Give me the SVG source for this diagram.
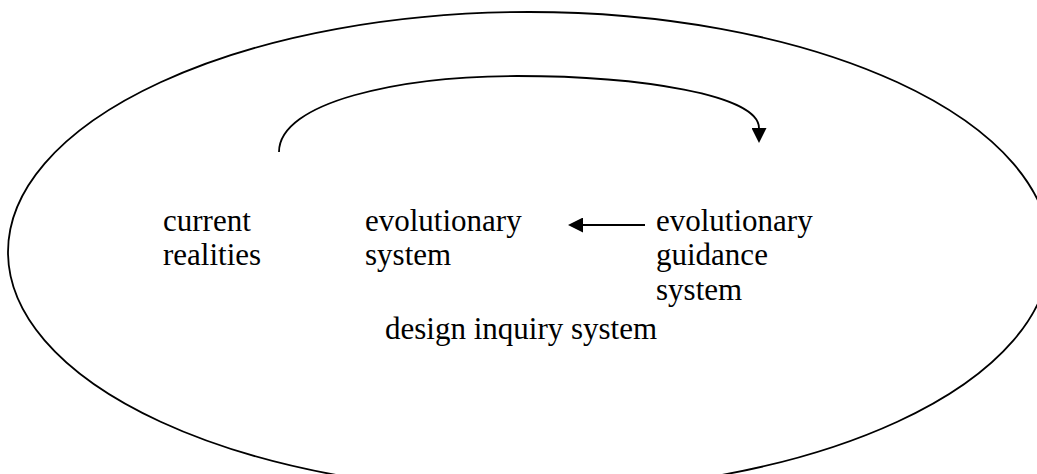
<svg xmlns="http://www.w3.org/2000/svg" width="1037" height="474" viewBox="0 0 1037 474">
  <style>
    .label { font-family: "Liberation Serif", "Times New Roman", serif; font-size: 31px; fill: #000; }
    .line { fill: none; stroke: #000; stroke-width: 1.8; }
  </style>
  <defs>
    <marker id="arrow" markerUnits="userSpaceOnUse" markerWidth="15" markerHeight="15" viewBox="0 0 15 15" refX="0" refY="7.5" orient="auto">
      <path d="M0,0 L15,7.5 L0,15 z" fill="#000"/>
    </marker>
  </defs>
  <rect width="1037" height="474" fill="#fff"/>

  <!-- outer boundary: design inquiry system -->
  <g id="design-inquiry-system">
    <ellipse cx="529" cy="252" rx="521" ry="240" class="line" stroke-width="1.6"/>
    <text class="label" x="385" y="339">design inquiry system</text>
  </g>

  <g id="current-realities">
    <text class="label" x="163" y="231">current</text>
    <text class="label" x="163" y="265">realities</text>
  </g>

  <g id="evolutionary-system">
    <text class="label" x="365" y="231">evolutionary</text>
    <text class="label" x="365" y="265">system</text>
  </g>

  <g id="evolutionary-guidance-system">
    <text class="label" x="656" y="231">evolutionary</text>
    <text class="label" x="656" y="265">guidance</text>
    <text class="label" x="656" y="300">system</text>
  </g>

  <g id="connectors">
    <path class="line" d="M279,152 C279,102 400,76 517,76 C640,76 759,95 759,128" marker-end="url(#arrow)"/>
    <path class="line" d="M645,225 L583,225" marker-end="url(#arrow)"/>
  </g>
</svg>
